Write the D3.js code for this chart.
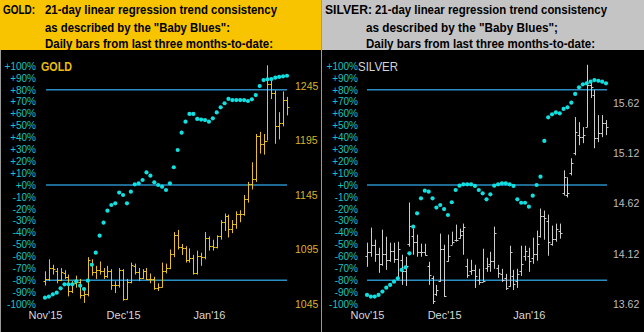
<!DOCTYPE html>
<html><head><meta charset="utf-8">
<script src="https://cdn.jsdelivr.net/npm/d3@7/dist/d3.min.js"></script>
<style>body{margin:0;background:#000;overflow:hidden}svg{display:block}</style>
</head><body><svg id="c" width="644" height="332"></svg>
<script>
// ---------- DATA ----------
const days = [
 "2015-11-18","2015-11-19","2015-11-20","2015-11-23","2015-11-24","2015-11-25","2015-11-27","2015-11-30",
 "2015-12-01","2015-12-02","2015-12-03","2015-12-04","2015-12-07","2015-12-08","2015-12-09","2015-12-10","2015-12-11",
 "2015-12-14","2015-12-15","2015-12-16","2015-12-17","2015-12-18","2015-12-21","2015-12-22","2015-12-23","2015-12-24",
 "2015-12-28","2015-12-29","2015-12-30","2015-12-31",
 "2016-01-04","2016-01-05","2016-01-06","2016-01-07","2016-01-08","2016-01-11","2016-01-12","2016-01-13","2016-01-14",
 "2016-01-15","2016-01-19","2016-01-20","2016-01-21","2016-01-22","2016-01-25","2016-01-26","2016-01-27","2016-01-28","2016-01-29",
 "2016-02-01","2016-02-02","2016-02-03","2016-02-04","2016-02-05","2016-02-08","2016-02-09","2016-02-10","2016-02-11",
 "2016-02-12","2016-02-16","2016-02-17","2016-02-18","2016-02-19"];

const goldOpen  = [1066,1068,1078,1075,1067,1073,1070,1057,1064,1065,1053,1054,1083,1074,1076,1075,1071,1075,1062,1062,1076,1050,1065,1080,1074,1069,1075,1068,1068,1060,1061,1075,1078,1091,1108,1097,1096,1085,1087,1073,1089,1088,1106,1098,1097,1107,1120,1126,1114,1118,1128,1128,1141,1155,1160,1199,1192,1195,1247,1239,1208,1211,1232];
const goldHigh  = [1075,1086,1081,1078,1078,1076,1072,1066,1071,1068,1060,1088,1086,1080,1084,1078,1080,1077,1066,1078,1077,1068,1083,1082,1078,1077,1078,1073,1070,1064,1083,1082,1095,1111,1113,1100,1098,1096,1090,1094,1092,1111,1107,1104,1108,1122,1128,1127,1122,1130,1131,1145,1157,1175,1201,1203,1201,1264,1250,1241,1221,1240,1235];
const goldLow   = [1062,1066,1072,1064,1066,1068,1052,1055,1060,1050,1046,1052,1071,1068,1072,1068,1069,1058,1055,1060,1048,1049,1064,1072,1066,1068,1067,1064,1058,1057,1060,1073,1077,1088,1095,1090,1083,1083,1072,1072,1080,1086,1094,1094,1096,1104,1112,1106,1110,1114,1120,1126,1138,1150,1157,1183,1182,1195,1233,1192,1196,1208,1218];
const goldClose = [1068,1078,1077,1067,1074,1070,1057,1064,1065,1053,1054,1085,1074,1076,1075,1071,1075,1062,1062,1076,1050,1065,1081,1074,1069,1075,1068,1068,1060,1061,1075,1078,1091,1108,1097,1096,1085,1087,1073,1089,1088,1106,1098,1097,1107,1120,1126,1114,1118,1128,1128,1141,1155,1160,1199,1192,1195,1247,1239,1208,1211,1232,1226];
const goldTrend = [-94.7,-93.8,-91.9,-90.5,-86.8,-83.5,-83.5,-83.5,-81,-84.6,-87.4,-80.4,-67,-56.9,-42.6,-31.7,-21.6,-16.8,-15.4,-6.4,-8.4,-15.4,-5.6,0.6,1.4,4.2,10.6,7.8,2.3,0,-1.4,-4.2,1.4,14.9,29.4,44,53.2,59.7,59.7,55.5,55,54.6,53.2,56,61,65.3,68.7,72.3,71.4,71.4,71.4,71.4,70.6,72,75.6,83.2,88.2,88.8,89,90.2,90.8,91.3,91.8];

const silverOpen  = [14.10,14.14,14.21,14.12,14.02,14.12,14.06,14.15,14.07,14.06,13.95,14.22,14.30,14.24,14.14,14.14,14.00,13.88,13.72,13.85,14.17,14.05,14.21,14.26,14.28,14.35,14.00,13.95,13.96,13.86,13.84,13.98,14.02,14.05,13.98,13.92,13.88,13.80,13.90,13.85,13.95,14.10,14.10,14.08,14.12,14.30,14.50,14.45,14.22,14.27,14.35,14.72,14.70,14.92,15.12,15.30,15.28,15.38,15.80,15.70,15.27,15.32,15.42];
const silverHigh  = [14.23,14.38,14.26,14.18,14.36,14.29,14.23,14.23,14.24,14.11,14.09,14.63,14.37,14.31,14.22,14.22,14.04,13.90,13.81,14.32,14.21,14.31,14.34,14.41,14.37,14.42,14.07,14.06,14.01,13.97,14.17,14.08,14.14,14.39,14.01,13.97,13.92,14.20,13.96,13.97,14.20,14.20,14.18,14.28,14.35,14.57,14.55,14.51,14.40,14.42,14.42,14.95,14.88,15.07,15.48,15.43,15.38,16.00,15.85,15.75,15.50,15.50,15.45];
const silverLow   = [13.99,14.09,14.04,13.93,14.00,13.96,14.04,14.03,13.88,13.81,13.80,14.19,14.11,14.09,14.09,14.10,13.81,13.62,13.70,13.84,13.69,14.04,14.21,14.24,14.27,14.11,13.88,13.91,13.78,13.81,13.84,13.94,13.94,13.97,13.88,13.84,13.76,13.79,13.76,13.78,13.90,14.05,13.94,14.02,14.05,14.28,14.26,14.10,14.20,14.24,14.27,14.70,14.68,14.90,15.10,15.20,15.22,15.38,15.67,15.17,15.23,15.28,15.30];
const silverClose = [14.14,14.21,14.12,14.02,14.12,14.06,14.15,14.07,14.17,13.95,14.00,14.40,14.24,14.14,14.14,14.11,13.91,13.65,13.76,14.17,13.70,14.10,14.24,14.26,14.31,14.39,13.91,13.96,13.90,13.84,13.85,14.00,14.05,14.33,13.93,13.86,13.78,14.14,13.82,13.92,14.02,14.15,14.05,14.12,14.22,14.50,14.48,14.24,14.27,14.37,14.33,14.88,14.72,15.02,15.33,15.28,15.30,15.80,15.78,15.27,15.32,15.42,15.38];
const silverTrend = [-92.4,-93.8,-93.8,-92.4,-89.6,-86.3,-84,-81.2,-78.4,-71.4,-69.2,-57.4,-35,-23.8,-11.2,-4.8,-5.6,-11.2,-19,-16.8,-20.2,-25.2,-14.5,-4.2,-0.6,0.6,0.6,0.6,-0.8,-4.2,-7,-12,-7.8,-0.6,0.6,1.4,1.4,0.6,-0.8,-12,-14.9,-14.9,-18.2,-9,0,7,37,56.9,59.4,61,60.2,63.9,65.3,69.2,76.5,82.1,84.6,85.4,86.8,88.2,87.6,86.8,85.4];

const pctTicks = [100,90,80,70,60,50,40,30,20,10,0,-10,-20,-30,-40,-50,-60,-70,-80,-90,-100];
const bandLevels = [80,0,-80];
const goldPriceTicks = [1245,1195,1145,1095,1045];
const silverPriceTicks = [15.62,15.12,14.62,14.12,13.62];
const monthTickDays = ["2015-11-18","2015-12-17","2016-01-21"];
const monthTickLabels = ["Nov'15","Dec'15","Jan'16"];

const goldHeader = ["GOLD:","21-day linear regression trend consistency","as described by the \"Baby Blues\":","Daily bars from last three months-to-date:"];
const silverHeader = ["SILVER:","21-day linear regression trend consistency","as described by the \"Baby Blues\";","Daily bars from last three months-to-date:"];

// ---------- DRAW ----------
const svg = d3.select("#c");
svg.append("rect").attr("width",644).attr("height",332).attr("fill","#000");

function toBars(o,h,l,c){ return days.map((d,i)=>({day:d,o:o[i],h:h[i],l:l[i],c:c[i]})); }

const panels = [
  {x0:0, headerBg:"#F8C400", header:goldHeader, hw:[32,232,185,228], hx:[3,45,45,45],
   name:"GOLD", nameColor:"#E8BE10", nameWeight:"bold", nameSize:12.5, nameW:31, nameX:41,
   bars:toBars(goldOpen,goldHigh,goldLow,goldClose), trend:goldTrend,
   pDomain:[1045,1245], pRange:[304,86], pTicks:goldPriceTicks, pFmt:d3.format("d"), pX:295,
   barColor:"#E8C020", priceColor:"#D8B42A", xr:[45,287], lineX:[46,287]},
  {x0:322, headerBg:"#C4C4C4", header:silverHeader, hw:[47,232,192,229], hx:[3,53,44,44],
   name:"SILVER", nameColor:"#D4D4D4", nameWeight:"normal", nameSize:13, nameW:40, nameX:36,
   bars:toBars(silverOpen,silverHigh,silverLow,silverClose), trend:silverTrend,
   pDomain:[13.62,15.62], pRange:[304,103], pTicks:silverPriceTicks, pFmt:d3.format(".2f"), pX:291,
   barColor:"#CCCCCC", priceColor:"#BEBEBE", xr:[45,284], lineX:[45,285]}
];

const yPct = d3.scaleLinear().domain([-100,100]).range([304,66]);

panels.forEach(p=>{
  const g = svg.append("g").attr("transform",`translate(${p.x0},0)`);
  g.append("rect").attr("x",0).attr("y",0).attr("width",322).attr("height",50).attr("fill",p.headerBg);
  const hy=[14,14,31.5,48.3];
  p.header.forEach((t,i)=>{
    g.append("text").attr("x",p.hx[i]).attr("y",hy[i]).text(t)
     .attr("font-family","'Liberation Sans Narrow','Arial Narrow','Liberation Sans',Arial,sans-serif")
     .attr("font-weight","bold").attr("font-size",12.5).attr("fill","#000")
     .attr("textLength",p.hw[i]).attr("lengthAdjust","spacingAndGlyphs");
  });
  const x = d3.scalePoint().domain(days).range(p.xr);
  const yP = d3.scaleLinear().domain(p.pDomain).range(p.pRange);

  g.selectAll(".band").data(bandLevels).join("line")
   .attr("x1",p.lineX[0]).attr("x2",p.lineX[1])
   .attr("y1",d=>yPct(d)).attr("y2",d=>yPct(d))
   .attr("stroke","#2A8EC4").attr("stroke-width",1.6);

  const pa = g.append("g").attr("transform","translate(36,0)")
    .call(d3.axisLeft(yPct).tickValues(pctTicks).tickSize(0).tickPadding(0)
      .tickFormat(d=>(d>=0?"+":"")+d+"%"));
  pa.select(".domain").remove();
  pa.selectAll("text").attr("fill","#19C4C4").attr("font-size",10)
    .attr("font-family","'Liberation Sans',Arial,sans-serif");

  const ra = g.append("g").attr("transform",`translate(${p.pX},0)`)
    .call(d3.axisRight(yP).tickValues(p.pTicks).tickSize(0).tickPadding(0).tickFormat(p.pFmt));
  ra.select(".domain").remove();
  ra.selectAll("text").attr("fill",p.priceColor).attr("font-size",10.5)
    .attr("font-family","'Liberation Sans',Arial,sans-serif");

  const xa = g.append("g").attr("transform","translate(0,311)")
    .call(d3.axisBottom(x).tickValues(monthTickDays).tickSize(0).tickPadding(0)
      .tickFormat(d=>monthTickLabels[monthTickDays.indexOf(d)]));
  xa.select(".domain").remove();
  xa.selectAll("text").attr("fill","#D8D8D8").attr("font-size",11)
    .attr("font-family","'Liberation Sans',Arial,sans-serif");

  const bg = g.append("g").attr("stroke",p.barColor).attr("stroke-width",1).attr("fill","none");
  const b = bg.selectAll("g").data(p.bars).join("g");
  b.append("line").attr("x1",d=>Math.round(x(d.day))+0.5).attr("x2",d=>Math.round(x(d.day))+0.5)
    .attr("y1",d=>yP(d.h)).attr("y2",d=>yP(d.l));
  b.append("line").attr("x1",d=>Math.round(x(d.day))-1.5).attr("x2",d=>Math.round(x(d.day))+0.5)
    .attr("y1",d=>Math.round(yP(d.o))+0.5).attr("y2",d=>Math.round(yP(d.o))+0.5);
  b.append("line").attr("x1",d=>Math.round(x(d.day))+0.5).attr("x2",d=>Math.round(x(d.day))+2.5)
    .attr("y1",d=>Math.round(yP(d.c))+0.5).attr("y2",d=>Math.round(yP(d.c))+0.5);

  g.selectAll(".dot").data(p.trend).join("circle")
    .attr("cx",(d,i)=>x(days[i])).attr("cy",d=>yPct(d)).attr("r",2.1).attr("fill","#12E0E0");

  g.append("text").attr("x",p.nameX).attr("y",70.5).text(p.name)
    .attr("font-family","'Liberation Sans',Arial,sans-serif").attr("font-weight",p.nameWeight)
    .attr("font-size",p.nameSize).attr("fill",p.nameColor)
    .attr("textLength",p.nameW).attr("lengthAdjust","spacingAndGlyphs");
});

svg.append("line").attr("x1",321.5).attr("x2",321.5).attr("y1",0).attr("y2",332).attr("stroke","#9A9A9A").attr("stroke-width",1);
svg.append("line").attr("x1",0.5).attr("x2",0.5).attr("y1",50).attr("y2",332).attr("stroke","#9A9A9A").attr("stroke-width",1);
</script></body></html>
